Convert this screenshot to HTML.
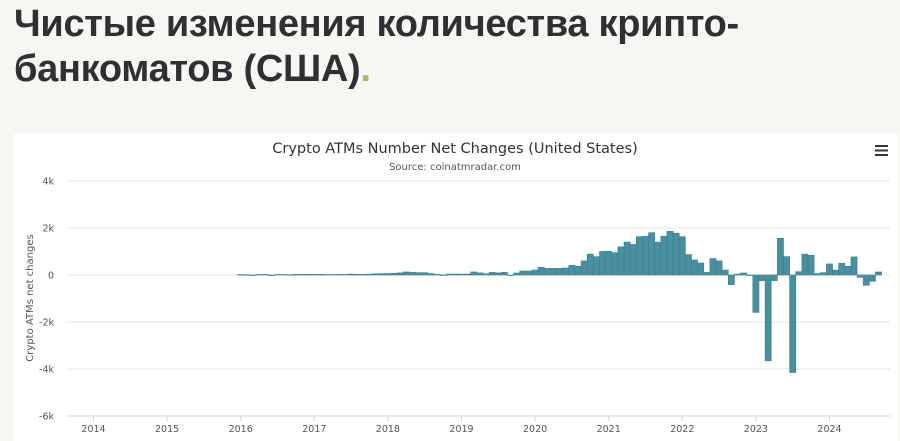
<!DOCTYPE html>
<html><head><meta charset="utf-8">
<style>
body{margin:0;width:900px;height:441px;overflow:hidden;background:#f6f6f2;font-family:"Liberation Sans","DejaVu Sans",sans-serif;}
h1{position:absolute;left:14px;top:2px;margin:0;font-size:38px;line-height:45px;font-weight:bold;color:#2e3033;letter-spacing:-0.3px;width:880px}
.dot{color:#a9b56b}
p{position:absolute;left:14px;top:160px;margin:0;font-size:13px;color:#333;}
.card{position:absolute;left:14px;top:134px;width:884px;height:307px;background:#fff;}
</style></head><body>
<h1>Чистые изменения количества крипто-<br>банкоматов (США)<span class="dot">.</span></h1>
<p>Гистограмма показывает чистое изменение количества криптовалютных машин, установленных и удаленных ежемесячно в <b>Соединенных Штатах</b> .</p>
<div class="card"></div>
<svg id="chart" width="900" height="441" style="position:absolute;left:0;top:0" font-family="'DejaVu Sans',sans-serif">
<text x="455" y="153" text-anchor="middle" font-size="14.5" fill="#333">Crypto ATMs Number Net Changes (United States)</text>
<text x="455" y="170" text-anchor="middle" font-size="10" fill="#555">Source: coinatmradar.com</text>
<g stroke="#333" stroke-width="2"><line x1="875" y1="146" x2="888" y2="146"/><line x1="875" y1="150.5" x2="888" y2="150.5"/><line x1="875" y1="155" x2="888" y2="155"/></g>
<text transform="translate(33,298) rotate(-90)" text-anchor="middle" font-size="10" fill="#555">Crypto ATMs net changes</text>
<g id="grid"></g><g id="bars"></g><g id="xaxis"></g>
</svg>
<script>
const yTicks=[4000,2000,0,-2000,-4000,-6000];
const yTickLabels=["4k","2k","0","-2k","-4k","-6k"];
const xTickLabels=["2014","2015","2016","2017","2018","2019","2020","2021","2022","2023","2024"];
const startYear=2016;
const values=[
20,15,0,20,25,0,20,20,10,25,25,30,
25,30,15,20,25,20,40,30,25,35,50,60,
60,70,90,130,110,100,100,60,25,0,40,40,
35,40,130,90,50,110,90,110,0,85,170,170,
210,330,280,280,280,300,410,370,600,890,780,1000,
1010,950,1200,1400,1300,1630,1650,1800,1400,1650,1860,1780,
1630,870,640,510,110,700,600,210,-410,40,85,0,
-1590,-240,-3650,-240,1560,780,-4150,140,890,840,60,100,
470,210,500,370,770,-100,-440,-270,130];
const NS="http://www.w3.org/2000/svg";
const y0=275, pxPerK=23.5;
function yS(v){return y0-v/1000*pxPerK;}
const x2014=93.5, pxYear=73.6;
function xS(yearFrac){return x2014+(yearFrac-2014)*pxYear;}
const grid=document.getElementById('grid');
yTicks.forEach((t,i)=>{
 const l=document.createElementNS(NS,'line');
 
 
 l.setAttribute('x1',68);l.setAttribute('x2',890);l.setAttribute('y1',yS(t));l.setAttribute('y2',yS(t));
 l.setAttribute('stroke',t===-6000?'#ccd6eb':'#e6e6e6');l.setAttribute('stroke-width',1);
 grid.appendChild(l);
 const tx=document.createElementNS(NS,'text');
 
 
 tx.setAttribute('x',54);tx.setAttribute('y',yS(t)+3.5);tx.setAttribute('text-anchor','end');
 tx.setAttribute('font-size','9.5');tx.setAttribute('fill','#555');tx.textContent=yTickLabels[i];
 grid.appendChild(tx);
});
const xa=document.getElementById('xaxis');
xTickLabels.forEach(lab=>{
 const x=xS(+lab);
 const l=document.createElementNS(NS,'line');
 
 
 l.setAttribute('x1',x);l.setAttribute('x2',x);l.setAttribute('y1',416);l.setAttribute('y2',421);l.setAttribute('stroke','#ccd6eb');
 xa.appendChild(l);
 const tx=document.createElementNS(NS,'text');
 
 
 tx.setAttribute('x',x);tx.setAttribute('y',432);tx.setAttribute('text-anchor','middle');
 tx.setAttribute('font-size','9.5');tx.setAttribute('fill','#555');tx.textContent=lab;
 xa.appendChild(tx);
});
const bars=document.getElementById('bars');
const w=pxYear/12;
values.forEach((v,i)=>{
 const xc=xS(startYear+i/12);
 const r=document.createElementNS(NS,'rect');
 
 
 const top=Math.min(yS(v),y0), h=Math.abs(yS(v)-y0);
 r.setAttribute('x',xc-w/2);r.setAttribute('width',w);r.setAttribute('y',top);r.setAttribute('height',Math.max(h,0.5));
 r.setAttribute('fill','#4a8e9f');r.setAttribute('stroke','#3a7f92');r.setAttribute('stroke-width','0.6');
 bars.appendChild(r);
});
</script>
</body></html>
